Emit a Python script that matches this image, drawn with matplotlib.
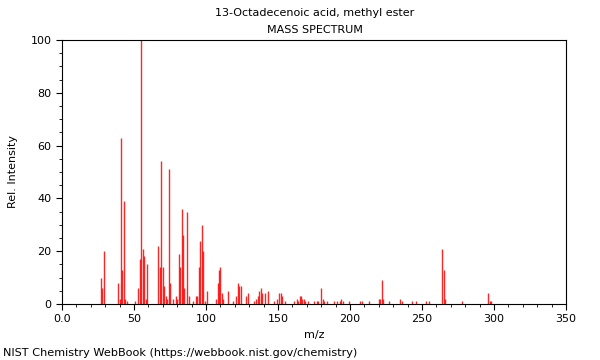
import matplotlib
matplotlib.use("Agg")
import matplotlib.pyplot as plt
from matplotlib.ticker import MultipleLocator

# m/z values and relative intensities
mz = [27, 28, 29, 39, 40, 41, 42, 43, 44, 45, 51, 53, 54, 55, 56, 57, 58, 59,
      67, 68, 69, 70, 71, 72, 73, 74, 75, 77, 79, 80, 81, 82, 83, 84, 85, 87,
      88, 91, 93, 94, 95, 96, 97, 98, 99, 101, 107, 108, 109, 110, 111, 112,
      115, 119, 121, 122, 123, 124, 128, 129, 133, 135, 136, 137, 138, 139,
      141, 143, 147, 149, 151, 152, 153, 155, 161, 163, 164, 165, 166, 167,
      168, 169, 171, 175, 177, 178, 180, 181, 182, 184, 189, 191, 193, 194,
      195, 199, 207, 208, 213, 220, 221, 222, 223, 227, 235, 236, 243, 246,
      253, 255, 264, 265, 266, 278, 296, 297, 298]
intensity = [10, 6, 20, 8, 2, 63, 13, 39, 2, 1, 1, 6, 17, 100, 21, 18, 2, 15,
             22, 14, 54, 14, 7, 3, 2, 51, 8, 2, 3, 2, 19, 14, 36, 26, 6, 35,
             3, 1, 3, 3, 14, 24, 30, 20, 1, 5, 2, 8, 13, 14, 4, 2,
             5, 1, 3, 8, 7, 7, 3, 4, 1, 2, 3, 5, 6, 4,
             4, 5, 1, 2, 4, 4, 3, 1, 1, 2, 1, 3, 3, 2,
             2, 1, 1, 1, 1, 1, 6, 2, 1, 1, 1, 1, 1, 2,
             1, 1, 1, 1, 1, 2, 2, 9, 2, 1, 2, 1, 1, 1,
             1, 1, 21, 13, 2, 1, 4, 1, 1]

title = "13-Octadecenoic acid, methyl ester"
subtitle = "MASS SPECTRUM"
footer = "NIST Chemistry WebBook (https://webbook.nist.gov/chemistry)"

fig = plt.figure(figsize=(6, 3.6), dpi=100)
ax = fig.add_axes([0.1033, 0.1556, 0.84, 0.7333])

ax.vlines(mz, 0, intensity, color="red", linewidth=1, alpha=0.85)

ax.set_xlim(0, 350)
ax.set_ylim(0, 100)
ax.xaxis.set_minor_locator(MultipleLocator(10))
ax.yaxis.set_major_locator(MultipleLocator(20))
ax.yaxis.set_minor_locator(MultipleLocator(5))
ax.set_xticks(range(0, 351, 50))
ax.set_xticklabels(["0.0"] + [str(v) for v in range(50, 351, 50)])
ax.tick_params(labelsize=8, length=4, width=0.8)
ax.tick_params(which="minor", length=2)

ax.set_xlabel("m/z", fontsize=8)
ax.set_ylabel("Rel. Intensity", fontsize=8)
ax.yaxis.set_label_coords(-0.088, 0.5)

fig.text(0.525, 0.963, title, ha="center", va="center", fontsize=8)
fig.text(0.525, 0.916, subtitle, ha="center", va="center", fontsize=8)
fig.text(0.005, 0.02, footer, ha="left", va="center", fontsize=8.1)

fig.savefig("out.png", dpi=100)
